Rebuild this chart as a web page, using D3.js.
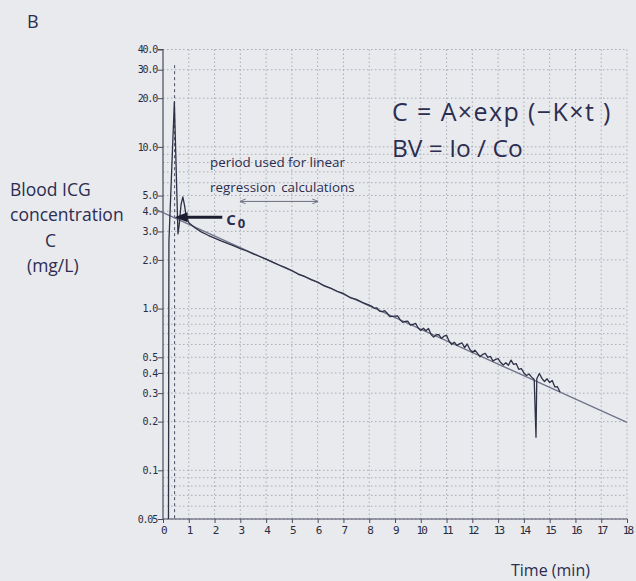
<!DOCTYPE html>
<html>
<head>
<meta charset="utf-8">
<script src="https://cdn.jsdelivr.net/npm/d3@7"></script>
<style>
  html, body { margin: 0; padding: 0; background: #e8eaee; }
  svg { display: block; }
  .lbl { font-family: "Open Sans", "DejaVu Sans", sans-serif; fill: #2c2d50; }
  .tick { font-family: "DejaVu Sans Mono", "Liberation Mono", monospace; fill: #2a2c40; }
</style>
</head>
<body>
<div id="stage"></div>
<script>
// labelled ticks
const yTicks = [0.05, 0.1, 0.2, 0.3, 0.4, 0.5, 1, 2, 3, 4, 5, 10, 20, 30, 40];
const yTickLabels = ['0.05', '0.1', '0.2', '0.3', '0.4', '0.5', '1.0', '2.0', '3.0', '4.0', '5.0', '10.0', '20.0', '30.0', '40.0'];
const xTicks = [0, 1, 2, 3, 4, 5, 6, 7, 8, 9, 10, 11, 12, 13, 14, 15, 16, 17, 18];

// dotted log grid
const gridY = [0.05, 0.06, 0.07, 0.08, 0.09, 0.1, 0.2, 0.3, 0.4, 0.5, 0.6, 0.7, 0.8, 0.9,
               1, 2, 3, 4, 5, 6, 7, 8, 9, 10, 20, 30, 40];
const gridX = [1, 2, 3, 4, 5, 6, 7, 8, 9, 10, 11, 12, 13, 14, 15, 16, 17, 18];

// measured blood ICG trace (min, mg/L)
const traceT = [0.21, 0.23, 0.44, 0.58, 0.63, 0.70, 0.77, 0.84, 0.90, 0.96,
  1.00, 1.25, 1.50, 1.75, 2.00, 2.25, 2.50, 2.75, 3.00, 3.25, 3.50, 3.75, 4.00, 4.25,
  4.50, 4.75, 5.00, 5.25, 5.50, 5.75, 6.00, 6.25, 6.50, 6.75, 7.00, 7.25, 7.50, 7.75, 8.00,
  8.1, 8.2, 8.3, 8.4, 8.5, 8.6, 8.7, 8.8, 8.9, 9.0, 9.1, 9.2, 9.3, 9.4, 9.5, 9.6, 9.7, 9.8, 9.9,
  10.0, 10.1, 10.2, 10.3, 10.4, 10.5, 10.6, 10.7, 10.8, 10.9, 11.0, 11.1, 11.2, 11.3, 11.4,
  11.5, 11.6, 11.7, 11.8, 11.9, 12.0, 12.1, 12.2, 12.3, 12.4, 12.5, 12.6, 12.7, 12.8, 12.9,
  13.0, 13.1, 13.2, 13.3, 13.4, 13.5, 13.6, 13.7, 13.8, 13.9, 14.0, 14.1, 14.2, 14.3, 14.4,
  14.47, 14.5, 14.6, 14.7, 14.8, 14.9, 15.0, 15.1, 15.2, 15.3, 15.4];
const traceC = [0.03, 2.6, 19, 2.9, 3.3, 4.4, 4.9, 4.3, 3.7, 3.55,
  3.40, 3.15, 2.97, 2.84, 2.73, 2.62, 2.53, 2.44, 2.35, 2.27, 2.18, 2.10, 2.02, 1.94,
  1.86, 1.79, 1.72, 1.63, 1.58, 1.51, 1.46, 1.38, 1.34, 1.28, 1.24, 1.17, 1.14, 1.09, 1.05,
  1.033, 1.006, 1.009, 0.964, 0.957, 0.970, 0.935, 0.893, 0.896, 0.899, 0.901, 0.852, 0.822, 0.833, 0.835,
  0.790, 0.800, 0.810, 0.759,
  0.731, 0.756, 0.729, 0.753, 0.692, 0.666, 0.689, 0.691, 0.654, 0.675, 0.683, 0.628, 0.600, 0.620, 0.592,
  0.605, 0.613, 0.574, 0.604, 0.561, 0.536, 0.553, 0.529, 0.505, 0.521, 0.528, 0.500, 0.506, 0.474, 0.485,
  0.490, 0.464, 0.448, 0.462, 0.446, 0.480, 0.452, 0.457, 0.421, 0.426, 0.400, 0.386, 0.394, 0.377, 0.364,
  0.16, 0.368, 0.397, 0.370, 0.354, 0.368, 0.349, 0.359, 0.328, 0.329, 0.305];

// regression line C = A exp(-K t)
const fitT = [-0.3, 18];
const fitC = [4.12, 0.198];

// annotations
const c0Time = 0.45, c0Value = 3.67, c0ArrowTail = 2.3;
const injectionTime = 0.45;
const period = [3, 6], periodLevel = 4.6;

const W = 636, H = 581;
const svg = d3.select('#stage').append('svg').attr('width', W).attr('height', H);

const x = d3.scaleLinear().domain([0, 18]).range([163, 627]);
const y = d3.scaleLog().domain([0.05, 40]).range([519, 49.5]);

svg.append('defs').append('clipPath').attr('id', 'plot')
  .append('rect').attr('x', x(0)).attr('y', y(40) - 5)
  .attr('width', x(18) - x(0) + 2).attr('height', y(0.05) - y(40) + 5);

// grid
const grid = svg.append('g').attr('stroke', '#9ca1ae').attr('stroke-width', 1)
  .attr('stroke-dasharray', '1.5,2.5').attr('opacity', 0.85);
grid.selectAll('.gy').data(gridY).enter().append('line')
  .attr('x1', x(0)).attr('x2', x(18))
  .attr('y1', d => y(d)).attr('y2', d => y(d));
grid.selectAll('.gx').data(gridX).enter().append('line')
  .attr('x1', d => x(d)).attr('x2', d => x(d))
  .attr('y1', y(0.05)).attr('y2', y(40));

// injection marker
svg.append('line')
  .attr('x1', x(injectionTime)).attr('x2', x(injectionTime))
  .attr('y1', y(32)).attr('y2', y(0.05))
  .attr('stroke', '#4a4c60').attr('stroke-width', 1).attr('stroke-dasharray', '3,3');

// axes
const yAxis = d3.axisLeft(y).tickValues(yTicks).tickSize(5)
  .tickFormat((d, i) => yTickLabels[i]);
const gy = svg.append('g').attr('transform', `translate(${x(0)},0)`).call(yAxis);
gy.select('.domain').attr('stroke', '#4a4c5e').attr('stroke-width', 1.2)
  .attr('d', `M-5,${y(40)}H0V${y(0.05)}`);
gy.selectAll('.tick line').attr('stroke', '#4a4c5e');
gy.selectAll('.tick text').attr('class', 'tick').attr('x', -6)
  .style('font-size', '10px').style('letter-spacing', '-1.2px');

const xAxis = d3.axisBottom(x).tickValues(xTicks).tickSize(4).tickFormat(d3.format('d'));
const gx = svg.append('g').attr('transform', `translate(0,${y(0.05)})`).call(xAxis);
gx.select('.domain').attr('stroke', '#4a4c5e').attr('stroke-width', 1.2)
  .attr('d', `M${x(0)},0H${x(18)}`);
gx.selectAll('.tick line').attr('stroke', '#4a4c5e');
gx.selectAll('.tick text').attr('class', 'tick').attr('y', 7)
  .style('font-size', '11px').style('letter-spacing', '-1.8px');

// regression line
const line = d3.line().x(d => x(d[0])).y(d => y(d[1]));
svg.append('path').datum(fitT.map((t, i) => [t, fitC[i]]))
  .attr('d', line).attr('fill', 'none')
  .attr('stroke', '#70748a').attr('stroke-width', 1.3);

// measured trace
svg.append('path').datum(traceT.map((t, i) => [t, traceC[i]]))
  .attr('clip-path', 'url(#plot)')
  .attr('d', line).attr('fill', 'none')
  .attr('stroke', '#2e3046').attr('stroke-width', 1.3).attr('stroke-linejoin', 'round');

// C0 arrow
const cy0 = y(c0Value);
svg.append('line')
  .attr('x1', x(c0ArrowTail)).attr('x2', x(c0Time) + 8)
  .attr('y1', cy0).attr('y2', cy0)
  .attr('stroke', '#1c1d30').attr('stroke-width', 3);
svg.append('path')
  .attr('d', `M${x(c0Time)},${cy0}L${x(c0Time) + 13},${cy0 - 5}L${x(c0Time) + 13},${cy0 + 5}Z`)
  .attr('fill', '#1c1d30');
const c0 = svg.append('text').attr('class', 'lbl')
  .attr('x', x(c0ArrowTail) + 4).attr('y', cy0 + 8)
  .style('font-size', '15px').style('font-weight', 'bold');
c0.append('tspan').text('C');
c0.append('tspan').attr('dx', 2).attr('dy', 3).style('font-size', '13px').text('0');

// regression period arrow
const py = y(periodLevel);
svg.append('defs').append('marker').attr('id', 'ah')
  .attr('viewBox', '0 0 10 10').attr('refX', 9).attr('refY', 5)
  .attr('markerWidth', 6).attr('markerHeight', 6).attr('orient', 'auto-start-reverse')
  .append('path').attr('d', 'M0,1L10,5L0,9').attr('fill', 'none')
  .attr('stroke', '#6a6e80').attr('stroke-width', 1.5);
svg.append('line')
  .attr('x1', x(period[0])).attr('x2', x(period[1]))
  .attr('y1', py).attr('y2', py)
  .attr('stroke', '#6a6e80').attr('stroke-width', 1)
  .attr('marker-start', 'url(#ah)').attr('marker-end', 'url(#ah)');

svg.append('text').attr('class', 'lbl').attr('x', 210).attr('y', 167)
  .style('font-size', '13.4px').text('period used for linear');
svg.append('text').attr('class', 'lbl').attr('x', 210).attr('y', 192)
  .style('font-size', '13.4px').style('word-spacing', '2px').text('regression calculations');

// formulas
svg.append('text').attr('class', 'lbl').attr('x', 392).attr('y', 121)
  .style('font-size', '25px').style('letter-spacing', '1.4px').style('word-spacing', '0px')
  .text('C = A×exp (−K×t )');
svg.append('text').attr('class', 'lbl').attr('x', 392).attr('y', 157)
  .style('font-size', '24.5px').text('BV = Io / Co');

// panel letter and axis titles
svg.append('text').attr('class', 'lbl').attr('x', 27).attr('y', 28)
  .style('font-size', '18px').text('B');

const yTitle = ['Blood ICG', 'concentration', 'C', '(mg/L)'];
const yTitleX = [10, 10, 45, 27];
const yTitleY = [196, 221, 247, 272];
yTitle.forEach((t, i) => {
  svg.append('text').attr('class', 'lbl').attr('x', yTitleX[i]).attr('y', yTitleY[i])
    .style('font-size', '17.5px').text(t);
});

svg.append('text').attr('class', 'lbl').attr('x', 511).attr('y', 576)
  .style('font-size', '16px').text('Time (min)');
</script>
</body>
</html>
